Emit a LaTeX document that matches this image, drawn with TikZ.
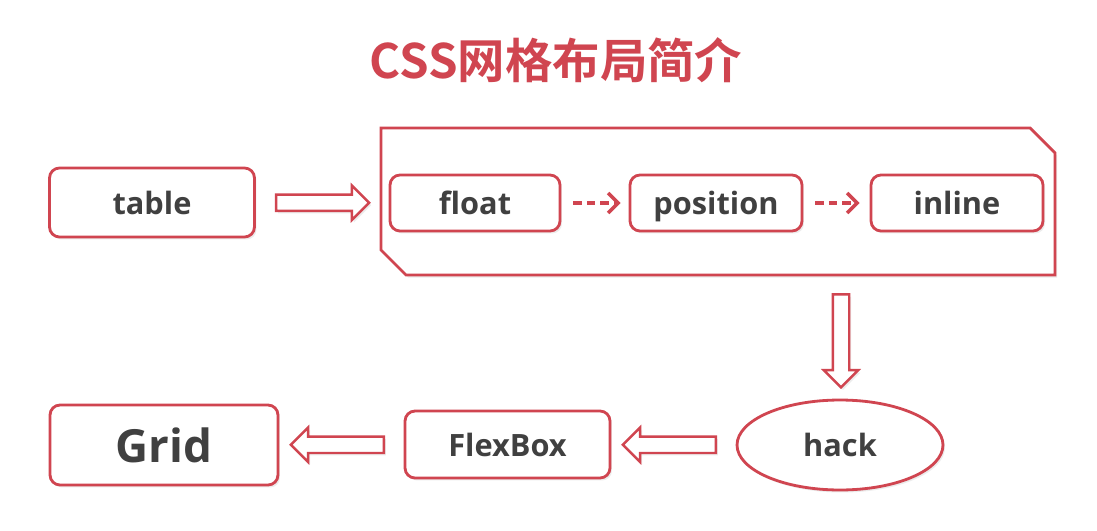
\documentclass[tikz,border=0pt]{standalone}
\usepackage{fontspec}
\setmainfont{Open Sans}
\newfontfamily\cjk{Noto Sans CJK SC Bold}
\usetikzlibrary{arrows.meta,calc,shapes.geometric,shapes.arrows,shadows}
\definecolor{cssred}{RGB}{208,69,80}
\definecolor{labelgray}{RGB}{64,64,64}
\newcommand{\labelfont}{\fontsize{17.5}{20}\selectfont\bfseries}

\begin{document}
\begin{tikzpicture}[x=0.02cm, y=-0.02cm,
    softshadow/.style={drop shadow={shadow xshift=0.04cm, shadow yshift=-0.05cm, opacity=0.15}},
    tagbox/.style={draw=cssred, line width=1.6pt, rounded corners=0.2cm, fill=white,
      text=labelgray, font=\labelfont, text height=17pt, text depth=3.5pt, softshadow},
    blockarrow/.style={single arrow, draw=cssred, line width=1.4pt, fill=white,
      inner sep=0.14cm, single arrow head extend=0.18cm, minimum height=1.86cm, softshadow},
    dasharrow/.style={draw=cssred, line width=2pt, dash pattern=on 0.17cm off 0.1cm,
      -{Straight Barb[length=0.2cm, width=0.4cm]}}]

    \fill[white] (0,0) rectangle (1097,530);
    \useasboundingbox (0,0) rectangle (1097,530);

    \node[text=cssred, font=\cjk\fontsize{27}{30}\selectfont] (title) at (556,60) {CSS网格布局简介};

    % chamfered frame round the three old layouts
    \draw[cssred, line width=1.6pt, fill=white, softshadow]
      (381,128) -- (1030,128) -- (1055,153) -- (1055,275) -- (406,275) -- (381,250) -- cycle;
    \coordinate (groupW) at (381,203);
    \coordinate (groupS) at (842,275);

    \node[tagbox, minimum width=4.1cm, minimum height=1.38cm] (table) at (152,202.5) {table};
    \node[tagbox, minimum width=3.4cm, minimum height=1.12cm] (float) at (475,203) {float};
    \node[tagbox, minimum width=3.44cm, minimum height=1.12cm] (position) at (716,203) {position};
    \node[tagbox, minimum width=3.44cm, minimum height=1.12cm] (inline) at (957,203) {inline};

    \node[tagbox, ellipse, minimum width=4.12cm, minimum height=1.8cm] (hack) at (840,445) {hack};
    \node[tagbox, minimum width=4.1cm, minimum height=1.34cm] (flexbox) at (507.5,444.5) {FlexBox};
    \node[tagbox, minimum width=4.56cm, minimum height=1.6cm, text height=25pt, text depth=5pt,
      font=\fontsize{26}{30}\selectfont\bfseries] (grid) at (164,445) {Grid};

    \draw[dasharrow, shorten <=0.24cm, shorten >=0.16cm] (float) -- (position);
    \draw[dasharrow, shorten <=0.24cm, shorten >=0.2cm] (position) -- (inline);

    \node[blockarrow] (toGroup) at ($(table.east)!0.5!(groupW)$) {};
    \node[blockarrow, shape border rotate=270] (toHack) at ($(groupS)!0.5!(hack.north)$) {};
    \node[blockarrow, shape border rotate=180] (toFlex) at ($(hack.west)!0.5!(flexbox.east)$) {};
    \node[blockarrow, shape border rotate=180] (toGrid) at ($(flexbox.west)!0.5!(grid.east)$) {};
\end{tikzpicture}
\end{document}
